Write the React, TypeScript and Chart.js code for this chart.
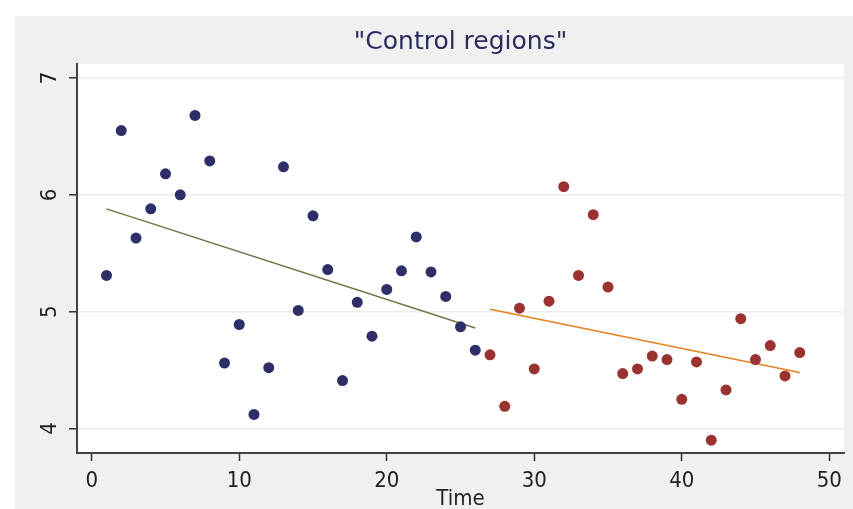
import React, { useEffect, useRef } from "react";
import { Chart, registerables } from "chart.js";

Chart.register(...registerables);

const treatedTime = [1, 2, 3, 4, 5, 6, 7, 8, 9, 10, 11, 12, 13, 14, 15, 16, 17, 18, 19, 20, 21, 22, 23, 24, 25, 26];
const treatedValues = [5.31, 6.55, 5.63, 5.88, 6.18, 6.0, 6.68, 6.29, 4.56, 4.89, 4.12, 4.52, 6.24, 5.01, 5.82, 5.36, 4.41, 5.08, 4.79, 5.19, 5.35, 5.64, 5.34, 5.13, 4.87, 4.67];
const controlTime = [27, 28, 29, 30, 31, 32, 33, 34, 35, 36, 37, 38, 39, 40, 41, 42, 43, 44, 45, 46, 47, 48];
const controlValues = [4.63, 4.19, 5.03, 4.51, 5.09, 6.07, 5.31, 5.83, 5.21, 4.47, 4.51, 4.62, 4.59, 4.25, 4.57, 3.9, 4.33, 4.94, 4.59, 4.71, 4.45, 4.65];
const fitPreTime = [1, 26];
const fitPreValues = [5.88, 4.86];
const fitPostTime = [27, 48];
const fitPostValues = [5.02, 4.48];
const xTicks = [0, 10, 20, 30, 40, 50];
const yTicks = [4, 5, 6, 7];
const titleText = '"Control regions"';
const xTitle = "Time";

const narrow = '"Liberation Sans Narrow", "DejaVu Sans Condensed", "Arial Narrow", sans-serif';

const toPts = (xs: number[], ys: number[]) => xs.map((x, i) => ({ x, y: ys[i] }));

const plotBg = {
  id: "plotBg",
  beforeDraw(chart: any) {
    const { ctx, chartArea } = chart;
    ctx.save();
    ctx.fillStyle = "#ffffff";
    ctx.fillRect(chartArea.left, chartArea.top, chartArea.right - chartArea.left, chartArea.bottom - chartArea.top);
    ctx.restore();
  },
};

export default function App() {
  const ref = useRef<HTMLCanvasElement | null>(null);
  useEffect(() => {
    if (!ref.current) return;
    const chart = new Chart(ref.current, {
      type: "scatter",
      data: {
        datasets: [
          {
            data: toPts(treatedTime, treatedValues),
            backgroundColor: "#2e2e68",
            borderColor: "#2e2e68",
            pointRadius: 5.5,
            pointBorderWidth: 0,
          },
          {
            data: toPts(controlTime, controlValues),
            backgroundColor: "#9a3232",
            borderColor: "#9a3232",
            pointRadius: 5.5,
            pointBorderWidth: 0,
          },
          {
            data: toPts(fitPreTime, fitPreValues),
            showLine: true,
            borderColor: "#737344",
            borderWidth: 1.5,
            pointRadius: 0,
          },
          {
            data: toPts(fitPostTime, fitPostValues),
            showLine: true,
            borderColor: "#e5821f",
            borderWidth: 1.5,
            pointRadius: 0,
          },
        ],
      },
      options: {
        animation: false,
        responsive: false,
        layout: { padding: { right: 9, bottom: 0, top: 0, left: 0 } },
        plugins: { legend: { display: false }, tooltip: { enabled: false }, title: { display: false } },
        scales: {
          x: {
            type: "linear",
            position: "bottom",
            min: -1,
            max: 51,
            afterBuildTicks: (s: any) => {
              s.ticks = xTicks.map((v) => ({ value: v }));
            },
            afterFit: (s: any) => {
              s.height = 56;
            },
            ticks: {
              color: "#222222",
              font: { family: narrow, size: 22 },
              padding: 7,
            },
            grid: {
              drawOnChartArea: false,
              drawTicks: true,
              tickLength: 8,
              tickColor: "#333333",
              tickWidth: 1.5,
            },
            border: { display: true, color: "#444444", width: 2 },
            title: {
              display: true,
              text: xTitle,
              color: "#222222",
              font: { family: narrow, size: 22, lineHeight: 1 },
              padding: { top: 0, bottom: -1 },
            },
          },
          xTop: {
            type: "linear",
            position: "top",
            min: -1,
            max: 51,
            afterFit: (s: any) => {
              s.height = 48;
            },
            ticks: { display: false },
            grid: { display: false },
            border: { display: false },
            title: {
              display: true,
              text: titleText,
              color: "#2b2b5e",
              font: { family: '"DejaVu Sans", sans-serif', size: 25, lineHeight: 1 },
              padding: { top: 14, bottom: 0 },
            },
          },
          y: {
            type: "linear",
            min: 3.79,
            max: 7.12,
            afterBuildTicks: (s: any) => {
              s.ticks = yTicks.map((v) => ({ value: v }));
            },
            afterFit: (s: any) => {
              s.width = 62;
            },
            ticks: {
              color: "#222222",
              font: { family: narrow, size: 22 },
              minRotation: 90,
              maxRotation: 90,
              crossAlign: "center",
              padding: 12,
            },
            grid: {
              color: "#ececec",
              lineWidth: 1.5,
              drawTicks: true,
              tickLength: 8,
              tickColor: "#333333",
              tickWidth: 1.5,
            },
            border: { display: true, color: "#444444", width: 2 },
          },
        },
      },
      plugins: [plotBg],
    } as any);
    return () => chart.destroy();
  }, []);
  return (
    <div style={{ position: "absolute", left: 15, top: 16, width: 838, height: 493, background: "#f0f0f0" }}>
      <canvas ref={ref} width={838} height={493} style={{ display: "block", width: 838, height: 493 }} />
    </div>
  );
}
